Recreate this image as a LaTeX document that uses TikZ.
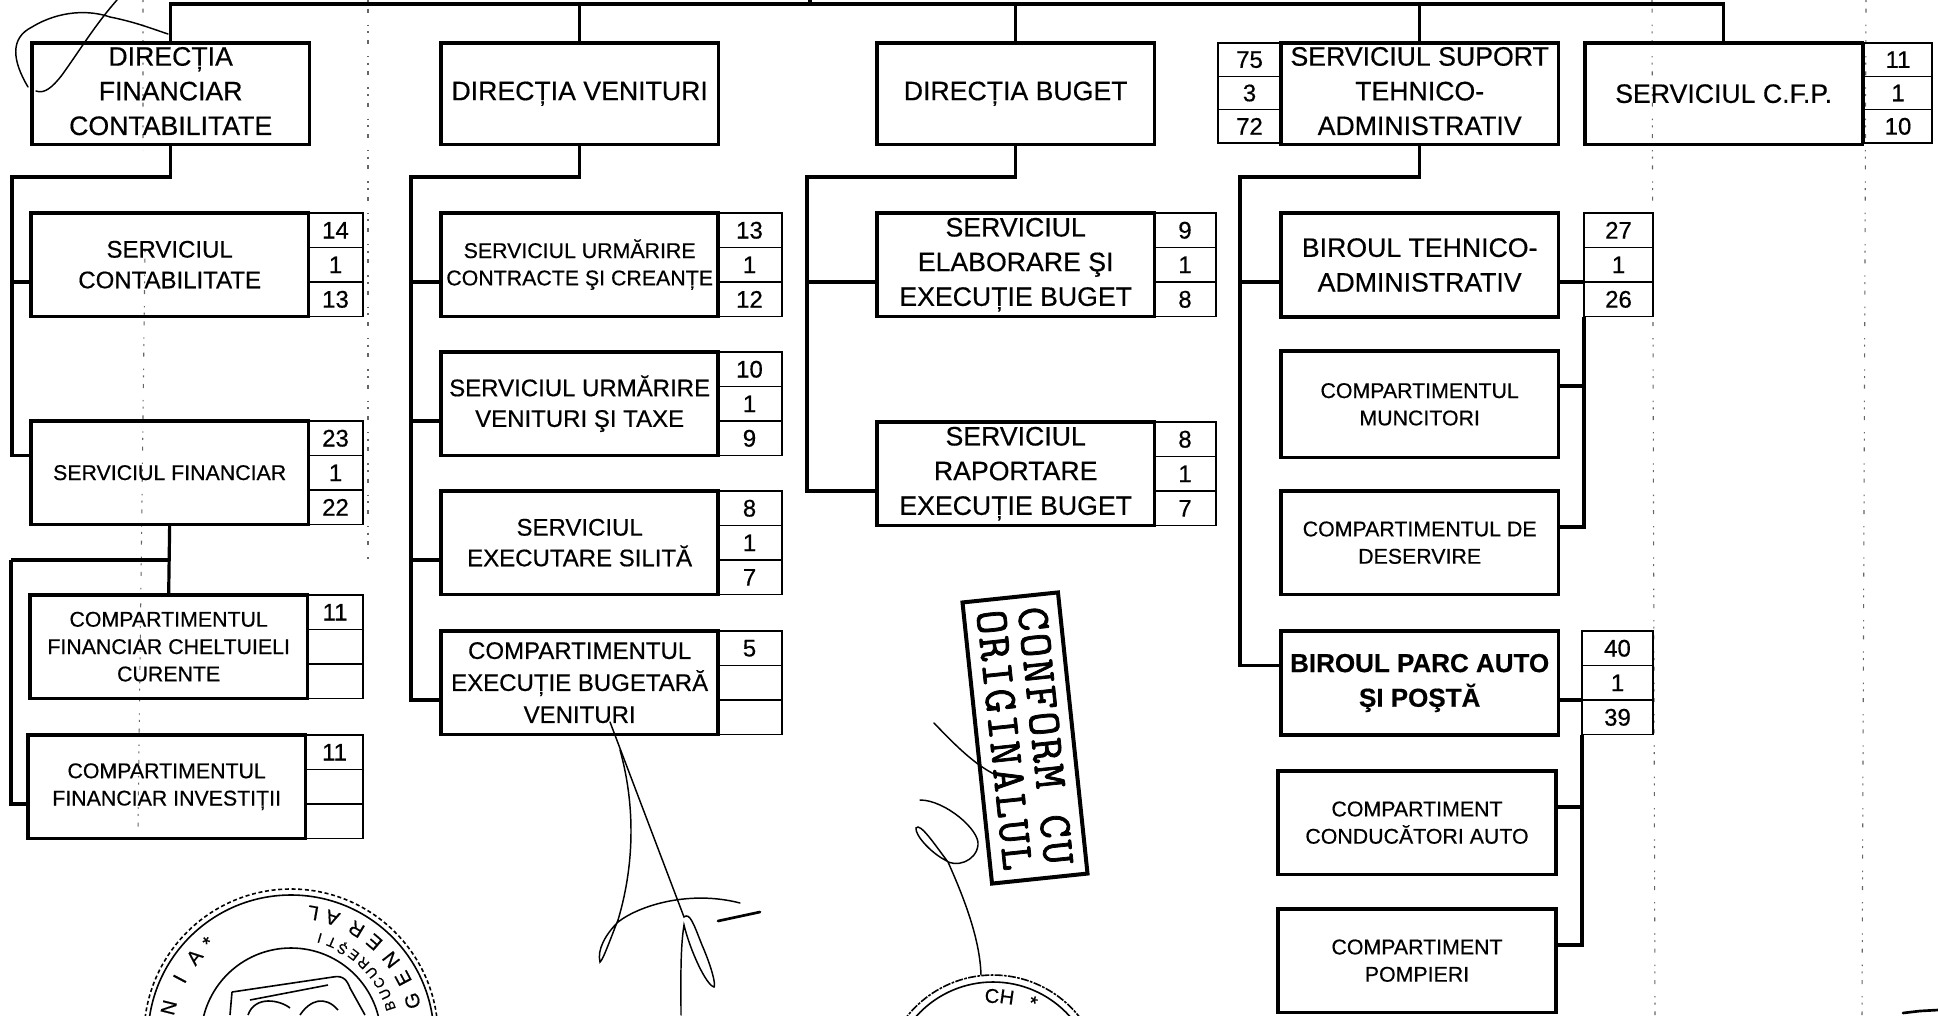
\documentclass[tikz,border=0pt]{standalone}
\usepackage{fontspec}
\setmainfont{Liberation Sans}[RawFeature={embolden=0.5}]
\setmonofont{Latin Modern Mono}[RawFeature={embolden=1.6},LetterSpace=5]
\tikzset{
	box/.style={draw,line width=2.4pt,minimum width=208pt,minimum height=77.5pt,inner sep=0pt,outer sep=0pt,anchor=north west,align=center},
	bigfont/.style={font=\fontsize{20}{26}\selectfont},
	midfont/.style={font=\fontsize{18}{23}\selectfont},
	smallfont/.style={font=\fontsize{16}{20.5}\selectfont},
	cell/.style={draw,line width=1.1pt,minimum width=#1*0.75pt,minimum height=25.9pt,inner sep=0pt,outer sep=0pt,anchor=north west,font=\fontsize{18}{22}\selectfont},
	rail/.style={line width=2.4pt},
	tick/.style={line width=3.2pt},
	sign/.style={line width=1.1pt,line cap=round},
	seal/.style={line width=1.2pt},
	sealbig/.style={inner sep=0pt,font=\fontsize{15}{15}\selectfont},
	sealsmall/.style={inner sep=0pt,font=\fontsize{10.5}{11}\selectfont},
	speck/.style={line width=0.8pt,black!60,dash pattern={on 1.5pt off 5pt on 3pt off 9pt on 1pt off 4pt}}
}
\begin{document}
\begin{tikzpicture}[x=0.75pt,y=0.75pt,yscale=-1,xscale=1]
	\clip (0,0) rectangle (1938,1015);

	%Scan specks
	\draw [speck] (143,0) -- (143,150) (145,250) -- (138,830);
	\draw [speck] (368,0) -- (368,560);
	\draw [speck] (1652,0) -- (1655,1015);
	\draw [speck] (1866,0) -- (1862,1015);

	%Shape: Cells first column
	\node [cell=55] (sconta) at (308,213) {14};
	\node [cell=55] (scontb) at (sconta.south west) {1};
	\node [cell=55] (scontc) at (scontb.south west) {13};
	\node [cell=55] (sfina) at (308,421) {23};
	\node [cell=55] (sfinb) at (sfina.south west) {1};
	\node [cell=55] (sfinc) at (sfinb.south west) {22};
	\node [cell=56] (cfcha) at (307,595) {11};
	\node [cell=56] (cfchb) at (cfcha.south west) {};
	\node [cell=56] (cfchc) at (cfchb.south west) {};
	\node [cell=57] (cfina) at (306,735) {11};
	\node [cell=57] (cfinb) at (cfina.south west) {};
	\node [cell=57] (cfinc) at (cfinb.south west) {};
	%Shape: Cells second column
	\node [cell=65] (surca) at (717,213) {13};
	\node [cell=65] (surcb) at (surca.south west) {1};
	\node [cell=65] (surcc) at (surcb.south west) {12};
	\node [cell=65] (survta) at (717,352) {10};
	\node [cell=65] (survtb) at (survta.south west) {1};
	\node [cell=65] (survtc) at (survtb.south west) {9};
	\node [cell=65] (sexsa) at (717,491) {8};
	\node [cell=65] (sexsb) at (sexsa.south west) {1};
	\node [cell=65] (sexsc) at (sexsb.south west) {7};
	\node [cell=65] (cebva) at (717,631) {5};
	\node [cell=65] (cebvb) at (cebva.south west) {};
	\node [cell=65] (cebvc) at (cebvb.south west) {};
	%Shape: Cells third column
	\node [cell=62] (seeba) at (1154,213) {9};
	\node [cell=62] (seebb) at (seeba.south west) {1};
	\node [cell=62] (seebc) at (seebb.south west) {8};
	\node [cell=62] (sreba) at (1154,422) {8};
	\node [cell=62] (srebb) at (sreba.south west) {1};
	\node [cell=62] (srebc) at (srebb.south west) {7};
	%Shape: Cells fourth and fifth column
	\node [cell=63,minimum height=25pt] (sstaa) at (1218,43) {75};
	\node [cell=63,minimum height=25pt] (sstab) at (sstaa.south west) {3};
	\node [cell=63,minimum height=25pt] (sstac) at (sstab.south west) {72};
	\node [cell=69] (btaa) at (1584,213) {27};
	\node [cell=69] (btab) at (btaa.south west) {1};
	\node [cell=69] (btac) at (btab.south west) {26};
	\node [cell=71] (bpaa) at (1582,631) {40};
	\node [cell=71] (bpab) at (bpaa.south west) {1};
	\node [cell=71] (bpac) at (bpab.south west) {39};
	\node [cell=68,minimum height=25pt] (scfpa) at (1864,43) {11};
	\node [cell=68,minimum height=25pt] (scfpb) at (scfpa.south west) {1};
	\node [cell=68,minimum height=25pt] (scfpc) at (scfpb.south west) {10};

	%Shape: Boxes first column
	\node [box,bigfont,minimum height=76pt,text depth=4pt] (dfc) at (32,43) {DIRECȚIA\\FINANCIAR\\CONTABILITATE};
	\node [box,midfont] (scont) at (31,213) {SERVICIUL\\CONTABILITATE};
	\node [box,smallfont] (sfin) at (31,421) {SERVICIUL FINANCIAR};
	\node [box,smallfont] (cfch) at (30,595) {COMPARTIMENTUL\\FINANCIAR CHELTUIELI\\CURENTE};
	\node [box,smallfont] (cfin) at (28,735) {COMPARTIMENTUL\\FINANCIAR INVESTIȚII};
	%Shape: Boxes second column
	\node [box,bigfont,minimum height=76pt] (dv) at (441,43) {DIRECȚIA VENITURI};
	\node [box,smallfont] (surc) at (441,213) {SERVICIUL URMĂRIRE\\CONTRACTE ŞI CREANȚE};
	\node [box,midfont] (survt) at (441,352) {SERVICIUL URMĂRIRE\\VENITURI ŞI TAXE};
	\node [box,midfont] (sexs) at (441,491) {SERVICIUL\\EXECUTARE SILITĂ};
	\node [box,midfont,font=\fontsize{18}{24}\selectfont] (cebv) at (441,631) {COMPARTIMENTUL\\EXECUȚIE BUGETARĂ\\VENITURI};
	%Shape: Boxes third column
	\node [box,bigfont,minimum height=76pt] (dbg) at (877,43) {DIRECȚIA BUGET};
	\node [box,bigfont] (seeb) at (877,213) {SERVICIUL\\ELABORARE ŞI\\EXECUȚIE BUGET};
	\node [box,bigfont] (sreb) at (877,422) {SERVICIUL\\RAPORTARE\\EXECUȚIE BUGET};
	%Shape: Boxes fourth column
	\node [box,bigfont,minimum height=76pt,text depth=4pt] (ssta) at (1281,43) {SERVICIUL SUPORT\\TEHNICO-\\ADMINISTRATIV};
	\node [box,bigfont,minimum height=78pt] (bta) at (1281,213) {BIROUL TEHNICO-\\ADMINISTRATIV};
	\node [box,smallfont,minimum height=80pt] (cmun) at (1281,351) {COMPARTIMENTUL\\MUNCITORI};
	\node [box,smallfont] (cdes) at (1281,491) {COMPARTIMENTUL DE\\DESERVIRE};
	\node [box,bigfont,font=\bfseries\fontsize{19.5}{26}\selectfont,minimum height=78pt] (bpa) at (1281,631) {BIROUL PARC AUTO\\ŞI POŞTĂ};
	\node [box,smallfont,minimum width=208.5pt] (ccon) at (1278,771) {COMPARTIMENT\\CONDUCĂTORI AUTO};
	\node [box,smallfont,minimum width=208.5pt] (cpom) at (1278,909) {COMPARTIMENT\\POMPIERI};
	%Shape: Box fifth column
	\node [box,bigfont,minimum height=76pt] (scfp) at (1585,43) {SERVICIUL C.F.P.};

	%Top rail
	\coordinate (topbar) at (810,4);
	\coordinate (toproot) at (810,0);
	\draw [rail] (dfc.north) |- (topbar) -| (scfp.north);
	\draw [rail] (toproot) -- (topbar);
	\draw [rail] (dv.north) -- (dv.north |- topbar);
	\draw [rail] (dbg.north) -- (dbg.north |- topbar);
	\draw [rail] (ssta.north) -- (ssta.north |- topbar);

	%First column rails
	\coordinate (fcrail) at (12,177);
	\draw [rail] (dfc.south) |- (fcrail) |- (sfina.south -| sfin.west);
	\draw [tick] (fcrail |- scontb.south) -- (scontb.south -| scont.west);
	\coordinate (fnrail) at (11,560);
	\draw [rail] (sfin.south) -- (cfch.north);
	\draw [tick] (cfch.north |- fnrail) -- (fnrail);
	\draw [rail] (fnrail) |- (cfinb.south -| cfin.west);
	%Second column rails
	\coordinate (scrail) at (411,177);
	\draw [rail] (dv.south) |- (scrail) |- (cebvb.south -| cebv.west);
	\draw [tick] (scrail |- surcb.south) -- (surcb.south -| surc.west);
	\draw [tick] (scrail |- survtb.south) -- (survtb.south -| survt.west);
	\draw [tick] (scrail |- sexsb.south) -- (sexsb.south -| sexs.west);
	\draw [tick] (scrail |- cebvb.south) -- (cebvb.south -| cebv.west);
	%Third column rails
	\coordinate (tcrail) at (807,177);
	\draw [rail] (dbg.south) |- (tcrail) |- (srebb.south -| sreb.west);
	\draw [tick] (tcrail |- seebb.south) -- (seebb.south -| seeb.west);
	%Fourth column rails
	\coordinate (frrail) at (1240,177);
	\draw [rail] (ssta.south) |- (frrail) |- (bpaa.south -| bpa.west);
	\draw [tick] (frrail |- btab.south) -- (btab.south -| bta.west);
	\coordinate (cmunt) at (1560,386);
	\coordinate (cdest) at (1560,527);
	\coordinate (ccont) at (1557,807);
	\coordinate (cpomt) at (1557,945);
	\draw [tick] (btab.south west) -- (btab.south -| bta.east);
	\draw [rail] (btac.south west) |- (cdest);
	\draw [tick] (cmunt) -- (cmunt -| btac.south west);
	\draw [tick] (cdest) -- (cdest -| btac.south west);
	\draw [tick] (bpab.south west) -- (bpab.south -| bpa.east);
	\draw [rail] (bpac.south west) |- (cpomt);
	\draw [tick] (ccont) -- (ccont -| bpac.south west);
	\draw [tick] (cpomt) -- (cpomt -| bpac.south west);

	%Stamp
	\node [draw,line width=3pt,minimum width=212pt,minimum height=72pt,inner sep=0pt,align=center,rotate=-84,font=\ttfamily\fontsize{35}{31}\selectfont] (stamp) at (1025,738) {CONFORM CU\\ORIGINALUL};

	%Curve Lines: signatures
	\draw [sign] (28,87) .. controls (12,60) and (10,38) .. (32,27) .. controls (60,10) and (90,10) .. (110,17) .. controls (135,22) and (150,28) .. (168,34);
	\draw [sign] (117,0) .. controls (95,25) and (80,50) .. (62,75) .. controls (52,88) and (44,94) .. (36,91);
	\draw [sign] (610,722) -- (684,917) .. controls (690,912) and (694,925) .. (702,945) .. controls (712,968) and (716,985) .. (714,987) .. controls (706,985) and (690,950) .. (684,925) .. controls (680,950) and (681,985) .. (681,1015);
	\draw [sign] (620,750) .. controls (634,800) and (636,860) .. (618,920) .. controls (610,940) and (603,960) .. (600,962) .. controls (597,950) and (605,935) .. (618,922) .. controls (640,905) and (690,890) .. (740,903);
	\draw [line width=2pt,line cap=round] (718,921) -- (760,912);
	\draw [sign] (934,723) .. controls (955,745) and (975,765) .. (996,775);
	\draw [sign] (920,800) .. controls (945,800) and (980,830) .. (978,845) .. controls (976,862) and (955,868) .. (945,860) .. controls (930,852) and (915,835) .. (916,828) .. controls (920,822) and (935,845) .. (948,862) .. controls (965,900) and (980,940) .. (981,975);
	\draw [line width=2pt,line cap=round] (1903,1013) -- (1920,1011) -- (1938,1010);

	%Seal left
	\coordinate (sealc) at (291,1038);
	\draw [seal] (sealc) circle [radius=143];
	\draw [seal,densely dashed] (291,1036) circle [radius=147];
	\draw [seal] (sealc) circle [radius=90];
	\draw [seal] (232,992) -- (333,977) .. controls (343,975) and (347,980) .. (350,988) -- (365,1015);
	\draw [seal] (232,992) -- (230,1015);
	\draw [seal] (250,1000) -- (328,985) (248,1015) .. controls (255,995) and (280,1000) .. (290,1008) (300,1015) .. controls (310,1000) and (325,995) .. (338,1010);
	\foreach \ang/\ltr in {166/N,152/I,140/A,131/*}
	\node [sealbig,rotate=\ang-90] at ([shift={(-\ang:126)}]sealc) {\ltr};
	\foreach \ang/\ltr in {80/L,71/A,59/R,49/E,38/N,28/E,17/G}
	\node [sealbig,rotate=\ang+90] at ([shift={(-\ang:127)}]sealc) {\ltr};
	\foreach \ang/\ltr in {74/I,67/T,60/Ş,53/E,46/R,39/U,32/C,25/U,18/B}
	\node [sealsmall,rotate=\ang+90] at ([shift={(-\ang:104)}]sealc) {\ltr};
	%Seal middle
	\coordinate (sealm) at (993,1085);
	\draw [seal,dash pattern={on 6pt off 1pt on 2pt off 1pt}] (sealm) circle [radius=110];
	\draw [seal] (sealm) circle [radius=103];
	\node [sealbig,rotate=-2] at (992,996) {C};
	\node [sealbig,rotate=-8] at (1007,997) {H};
	\node [sealbig,rotate=-20] at (1033,1003) {*};

\end{tikzpicture}
\end{document}
